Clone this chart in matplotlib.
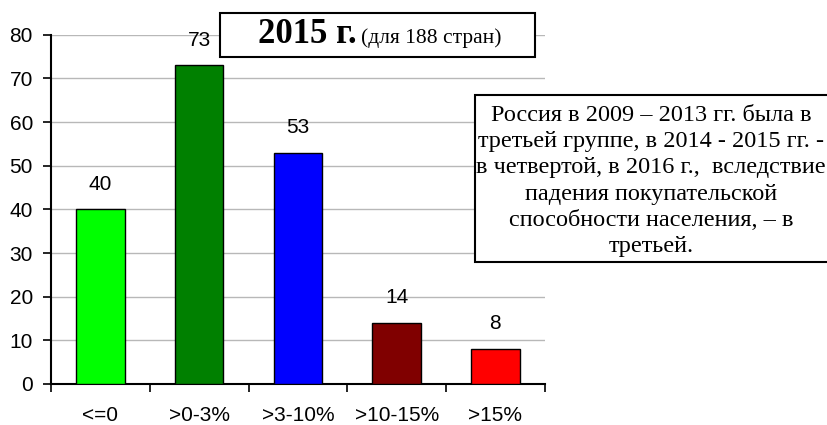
import matplotlib.pyplot as plt
from matplotlib.patches import Rectangle
from matplotlib.ticker import FixedLocator, NullFormatter

CATEGORIES = ['<=0', '>0-3%', '>3-10%', '>10-15%', '>15%']
COUNTS = [40, 73, 53, 14, 8]
COLORS = ['#00ff00', '#008000', '#0000ff', '#800000', '#ff0000']
NOTE = ('Россия в 2009 – 2013 гг. была в\n'
        'третьей группе, в 2014 - 2015 гг. -\n'
        'в четвертой, в 2016 г.,  вследствие\n'
        'падения покупательской\n'
        'способности населения, – в\n'
        'третьей.')
SERIF = ['Liberation Serif', 'DejaVu Serif']

plt.rcParams['font.family'] = ['Liberation Sans', 'DejaVu Sans']

fig = plt.figure(figsize=(8.27, 4.25), dpi=100)
ax = fig.add_axes([0.0617, 0.0965, 0.597, 0.8215])

x = list(range(len(CATEGORIES)))
ax.bar(x, COUNTS, width=0.49, color=COLORS, edgecolor='black', linewidth=1, zorder=3)
for xi, v in zip(x, COUNTS):
    ax.text(xi, v + 3.6, str(v), ha='center', va='bottom', fontsize=15)

ax.set_xlim(-0.5, len(CATEGORIES) - 0.5)
ax.set_ylim(0, 80)
ax.set_yticks(range(0, 81, 10))
ax.yaxis.grid(True, color='#b8b8b8', linewidth=1)
ax.set_axisbelow(True)

# category labels centred, tick marks on the boundaries
ax.set_xticks(x)
ax.set_xticklabels(CATEGORIES)
ax.xaxis.set_minor_locator(FixedLocator([i - 0.5 for i in range(len(CATEGORIES) + 1)]))
ax.xaxis.set_minor_formatter(NullFormatter())
ax.tick_params(axis='x', which='major', length=0, pad=16, labelsize=15)
ax.tick_params(axis='x', which='minor', length=6, width=1.2, direction='out')
ax.tick_params(axis='y', length=6, width=1.2, labelsize=15, pad=7)

for side in ('top', 'right'):
    ax.spines[side].set_visible(False)
for side in ('left', 'bottom'):
    ax.spines[side].set_linewidth(1.5)

# overlay for the title and note boxes
over = fig.add_axes([0, 0, 1, 1], zorder=10)
over.set_xlim(0, 1)
over.set_ylim(0, 1)
over.axis('off')
over.patch.set_alpha(0)

over.add_patch(Rectangle((0.266, 0.866), 0.381, 0.104, facecolor='white',
                         edgecolor='black', linewidth=1.5))
over.text(0.312, 0.8988, '2015 г.', family=SERIF, fontsize=25, fontweight='bold',
          ha='left', va='baseline')
over.text(0.4365, 0.8988, '(для 188 стран)', family=SERIF, fontsize=15.5,
          ha='left', va='baseline')

over.add_patch(Rectangle((0.5744, 0.3835), 0.43, 0.393, facecolor='white',
                         edgecolor='black', linewidth=1.5))
over.text(0.787, 0.574, NOTE, family=SERIF, fontsize=17.5, ha='center', va='center',
          linespacing=1.33)

fig.savefig('out.png', dpi=100)
